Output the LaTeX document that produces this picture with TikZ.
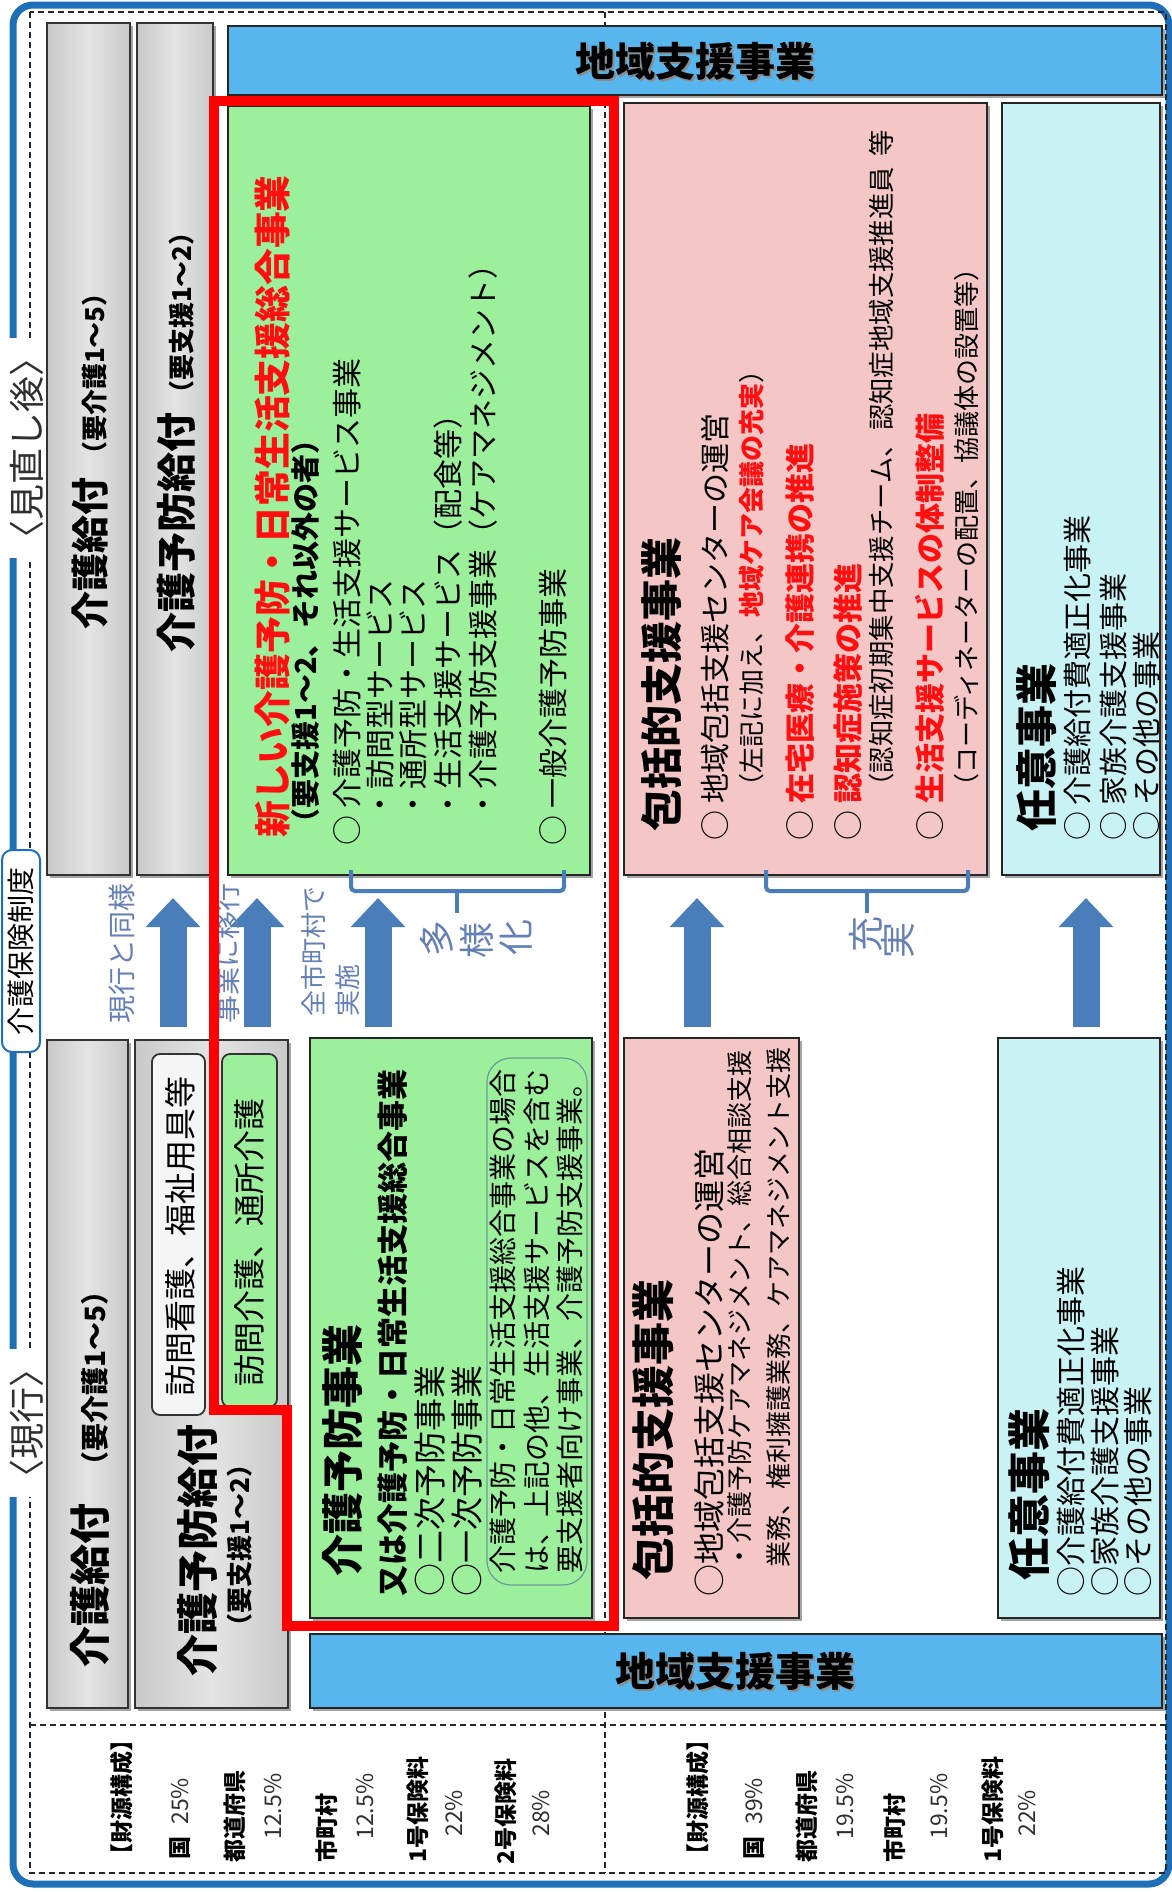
\documentclass[tikz,border=0pt]{standalone}
\usepackage{fontspec}
\setmainfont{Noto Sans CJK JP}
\usetikzlibrary{shadows,arrows.meta}
\definecolor{frameblue}{HTML}{1F6FB8}
\definecolor{grayA}{HTML}{C9C9C9}
\definecolor{grayB}{HTML}{E4E4E4}
\definecolor{greenbox}{HTML}{9CF09C}
\definecolor{pinkbox}{HTML}{F4C6C6}
\definecolor{cyanbox}{HTML}{C9F2F4}
\definecolor{barblue}{HTML}{58B6EE}
\definecolor{arrowblue}{HTML}{4A7EBB}
\definecolor{labelblue}{HTML}{6580B5}
\definecolor{redline}{HTML}{FF0000}
\definecolor{txtred}{HTML}{FF1010}
\definecolor{txtgray}{HTML}{303030}
\definecolor{pillborder}{HTML}{6E9A9A}
\newcommand{\jfs}[1]{\fontsize{#1}{#1}\selectfont}
\newcommand{\rb}[1]{\textcolor{txtred}{\bfseries #1}}
\begin{document}
\begin{tikzpicture}[x=0.5pt,y=-0.5pt,
 vt/.style={rotate=90, anchor=west, inner sep=0pt},
 vc/.style={rotate=90, anchor=center, inner sep=0pt},
 shad/.style={drop shadow={shadow xshift=1.5pt, shadow yshift=-1.5pt, opacity=0.5, fill=black!70}},
 graybox/.style={shad, draw=black!80, line width=0.9pt, left color=grayA, right color=grayA, middle color=grayB},
 greenbx/.style={shad, draw=black!85, line width=0.9pt, fill=greenbox},
 pinkbx/.style={shad, draw=black!85, line width=0.9pt, fill=pinkbox},
 cyanbx/.style={shad, draw=black!85, line width=0.9pt, fill=cyanbox},
 barbox/.style={shad, draw=black!85, line width=0.9pt, fill=barblue},
 whitepill/.style={draw=black!80, line width=0.9pt, rounded corners=4pt, fill=black!4},
 greenpill/.style={draw=black!80, line width=0.9pt, rounded corners=4pt, fill=greenbox},
 notebox/.style={draw=pillborder, line width=0.6pt, rounded corners=12pt},
 dashline/.style={draw=black!85, line width=0.6pt, dash pattern=on 3pt off 2pt},
 bigarrow/.style={draw=arrowblue, line width=13.5pt, -{Triangle[length=14.5pt,width=26.5pt]}},
 bracket/.style={draw=arrowblue, line width=2pt, rounded corners=2pt},
 frametag/.style={fill=white, inner sep=1pt, text=txtgray},
 lbl/.style={text=labelblue},
 redframe/.style={draw=redline, line width=5pt},
 bartext/.style={inner sep=0pt, font=\jfs{20}\bfseries}
]
\useasboundingbox (0,0) rectangle (1172,1892);
\fill[white] (0,0) rectangle (1172,1892);

% outer frame
\draw[frameblue, line width=3.5pt, rounded corners=10pt] (13,5) rectangle (1169,1884);
% dashed guide lines
\draw[dashline] (30,12) rectangle (1166,1873);
\draw[dashline] (605,12) -- (605,1873);
\draw[dashline] (30,1725) -- (1166,1725);

% ===== top (after revision) =====
\draw[graybox] (47,23) rectangle (130,875);
\draw[graybox] (137,23) rectangle (213,875);
\draw[barbox] (228,26) rectangle (1162,95);
\draw[greenbx] (228,106) rectangle (590,875);
\draw[pinkbx] (624,103) rectangle (987,875);
\draw[cyanbx] (1002,103) rectangle (1160,875);

\node[vc] (g1t) at (90,455) {\jfs{19}\bfseries 介護給付\hspace{5pt}\jfs{13}（要介護1～5）};
\node[vc] (g2t) at (176,436) {\jfs{20}\bfseries 介護予防給付\hspace{3pt}\jfs{13}（要支援1～2）};

\node[bartext, text=black!45] (bartopsh) at (697,63) {地域支援事業};
\node[bartext] (bartop) at (695,61) {地域支援事業};

% new green box
\node[vt] (n1) at (272,838) {\jfs{18.4}\rb{新しい介護予防・日常生活支援総合事業}};
\node[vt] (n2) at (305,838) {\jfs{14.5}\bfseries （要支援1～2、それ以外の者）};
\node[vt] (n3) at (347,846) {\jfs{15}○ 介護予防・生活支援サービス事業};
\node[vt] (n4) at (380,820) {\jfs{15}・訪問型サービス};
\node[vt] (n5) at (413,820) {\jfs{15}・通所型サービス};
\node[vt] (n6) at (448,820) {\jfs{15}・生活支援サービス（配食等）};
\node[vt] (n7) at (483,820) {\jfs{15}・介護予防支援事業（ケアマネジメント）};
\node[vt] (n8) at (553,846) {\jfs{15}○ 一般介護予防事業};

% pink top
\node[vt] (p1) at (661,832) {\jfs{21}\bfseries 包括的支援事業};
\node[vt] (p2) at (715,841) {\jfs{15}○ 地域包括支援センターの運営};
\node[vt] (p3) at (752,800) {\jfs{13}（左記に加え、\rb{地域ケア会議の充実}）};
\node[vt] (p4) at (800,841) {\jfs{15}○ \rb{在宅医療・介護連携の推進}};
\node[vt] (p5) at (848,841) {\jfs{15}○ \rb{認知症施策の推進}};
\node[vt] (p6) at (881,800) {\jfs{13.2}（認知症初期集中支援チーム、認知症地域支援推進員\hspace{5pt}等};
\node[vt] (p7) at (930,841) {\jfs{15}○ \rb{生活支援サービスの体制整備}};
\node[vt] (p8) at (967,800) {\jfs{13}（コーディネーターの配置、協議体の設置等）};

% cyan top
\node[vt] (c1) at (1037,832) {\jfs{21}\bfseries 任意事業};
\node[vt] (c2) at (1078,841) {\jfs{14.5}○ 介護給付費適正化事業};
\node[vt] (c3) at (1113,841) {\jfs{14.5}○ 家族介護支援事業};
\node[vt] (c4) at (1146,841) {\jfs{14.5}○ その他の事業};

% ===== bottom (current) =====
\draw[graybox] (47,1040) rectangle (128,1708);
\draw[graybox] (135,1040) rectangle (288,1708);
\draw[whitepill] (152,1054) rectangle (205,1415);
\draw[greenpill] (222,1054) rectangle (277,1407);
\draw[greenbx] (310,1038) rectangle (592,1618);
\draw[pinkbx] (624,1038) rectangle (799,1618);
\draw[cyanbx] (998,1038) rectangle (1160,1618);
\draw[barbox] (310,1634) rectangle (1162,1708);
\draw[notebox] (487,1058) rectangle (587,1585);

\node[vt] (b1) at (90,1668) {\jfs{20.5}\bfseries 介護給付\hspace{12pt}\jfs{14}（要介護1～5）};
\node[vt] (b2) at (197,1677) {\jfs{21}\bfseries 介護予防給付};
\node[vt] (b3) at (240,1640) {\jfs{13}\bfseries （要支援1～2）};
\node[vc] (b4) at (180,1236) {\jfs{16}訪問看護、福祉用具等};
\node[vc] (b5) at (249,1242) {\jfs{16}訪問介護、通所介護};

\node[vt] (o1) at (343,1577) {\jfs{21}\bfseries 介護予防事業};
\node[vt] (o2) at (393,1597) {\jfs{15.5}\bfseries 又は介護予防・日常生活支援総合事業};
\node[vt] (o3) at (430,1597) {\jfs{16.5}○二次予防事業};
\node[vt] (o4) at (467,1597) {\jfs{16.5}○一次予防事業};
\node[vt] (o5) at (503,1574) {\jfs{14}介護予防・日常生活支援総合事業の場合};
\node[vt] (o6) at (537,1574) {\jfs{14}は、上記の他、生活支援サービスを含む};
\node[vt] (o7) at (570,1574) {\jfs{14}要支援者向け事業、介護予防支援事業。};

\node[vt] (q1) at (653,1581) {\jfs{21.5}\bfseries 包括的支援事業};
\node[vt] (q2) at (709,1597) {\jfs{16}○地域包括支援センターの運営};
\node[vt] (q3) at (740,1570) {\jfs{13}・介護予防ケアマネジメント、総合相談支援};
\node[vt] (q4) at (779,1568) {\jfs{13}業務、権利擁護業務、ケアマネジメント支援};

\node[vt] (r1) at (1029,1581) {\jfs{21.5}\bfseries 任意事業};
\node[vt] (r2) at (1071,1597) {\jfs{15}○介護給付費適正化事業};
\node[vt] (r3) at (1105,1597) {\jfs{15}○家族介護支援事業};
\node[vt] (r4) at (1138,1597) {\jfs{15}○その他の事業};

\node[bartext, text=black!45] (barbotsh) at (737,1673) {地域支援事業};
\node[bartext] (barbot) at (735,1671) {地域支援事業};

% ===== funding =====
\node[vt] (f1) at (122,1867) {\jfs{11.5}\bfseries 【財源構成】};
\node[vt] (f2) at (180,1860) {\jfs{11.5}{\bfseries 国}\hspace{6pt}\textcolor{txtgray}{25\%}};
\node[vt] (f3) at (235,1863) {\jfs{11.5}\bfseries 都道府県};
\node[vt] (f4) at (273,1840) {\jfs{11.5}\textcolor{txtgray}{12.5\%}};
\node[vt] (f5) at (327,1863) {\jfs{11.5}\bfseries 市町村};
\node[vt] (f6) at (365,1840) {\jfs{11.5}\textcolor{txtgray}{12.5\%}};
\node[vt] (f7) at (418,1863) {\jfs{11.5}\bfseries 1号保険料};
\node[vt] (f8) at (454,1837) {\jfs{11.5}\textcolor{txtgray}{22\%}};
\node[vt] (f9) at (506,1865) {\jfs{11.5}\bfseries 2号保険料};
\node[vt] (f10) at (541,1837) {\jfs{11.5}\textcolor{txtgray}{28\%}};

\node[vt] (h1) at (698,1867) {\jfs{11.5}\bfseries 【財源構成】};
\node[vt] (h2) at (754,1860) {\jfs{11.5}{\bfseries 国}\hspace{6pt}\textcolor{txtgray}{39\%}};
\node[vt] (h3) at (807,1863) {\jfs{11.5}\bfseries 都道府県};
\node[vt] (h4) at (845,1840) {\jfs{11.5}\textcolor{txtgray}{19.5\%}};
\node[vt] (h5) at (895,1863) {\jfs{11.5}\bfseries 市町村};
\node[vt] (h6) at (939,1840) {\jfs{11.5}\textcolor{txtgray}{19.5\%}};
\node[vt] (h7) at (993,1863) {\jfs{11.5}\bfseries 1号保険料};
\node[vt] (h8) at (1027,1837) {\jfs{11.5}\textcolor{txtgray}{22\%}};

% ===== arrows between current and revised =====
\foreach \ax/\nm in {173/a1,257/a2,378/a3,697/a4,1086/a5}{
  \coordinate (\nm s) at (\ax,1027);
  \coordinate (\nm e) at (\ax,898);
  \draw[bigarrow] (\nm s) -- (\nm e);
}
\node[vc, lbl] (m1) at (122,953) {\jfs{14}現行と同様};
\node[vc, lbl] (m2) at (227,953) {\jfs{14}事業に移行};
\node[vt, lbl] (m3) at (314,1017) {\jfs{13}全市町村で};
\node[vt, lbl] (m4) at (348,1017) {\jfs{13}実施};

% brackets
\coordinate (k1a) at (351,870); \coordinate (k1b) at (351,891);
\coordinate (k1c) at (564,891); \coordinate (k1d) at (564,870);
\coordinate (k1m) at (457,891); \coordinate (k1n) at (457,913);
\draw[bracket] (k1a) -- (k1b) -- (k1c) -- (k1d);
\draw[bracket] (k1m) -- (k1n);
\coordinate (k2a) at (766,870); \coordinate (k2b) at (766,891);
\coordinate (k2c) at (968,891); \coordinate (k2d) at (968,870);
\coordinate (k2m) at (867,891); \coordinate (k2n) at (867,913);
\draw[bracket] (k2a) -- (k2b) -- (k2c) -- (k2d);
\draw[bracket] (k2m) -- (k2n);
\node[vc, lbl] (d1) at (437,938) {\jfs{18}多};
\node[vc, lbl] (d2) at (477,940) {\jfs{18}様};
\node[vc, lbl] (d3) at (516,937) {\jfs{18}化};
\node[vc, lbl] (e1) at (866,934) {\jfs{18}充};
\node[vc, lbl] (e2) at (898,940) {\jfs{18}実};

% frame labels
\node[frametag, rotate=90] (tagnew) at (27,448) {\jfs{18}〈見直し後〉};
\node[frametag, rotate=90] (tagold) at (27,1423) {\jfs{18}〈現行〉};
\node[rotate=90, draw=frameblue, line width=1pt, fill=white, rounded corners=5pt,
      minimum width=101pt, minimum height=19pt, inner sep=0pt] (sys) at (21,951) {\jfs{14}介護保険制度};

% red outline
\draw[redframe] (214,101) -- (614,101) -- (614,1626) -- (287,1626) -- (287,1410) -- (214,1410) -- cycle;
\end{tikzpicture}
\end{document}
